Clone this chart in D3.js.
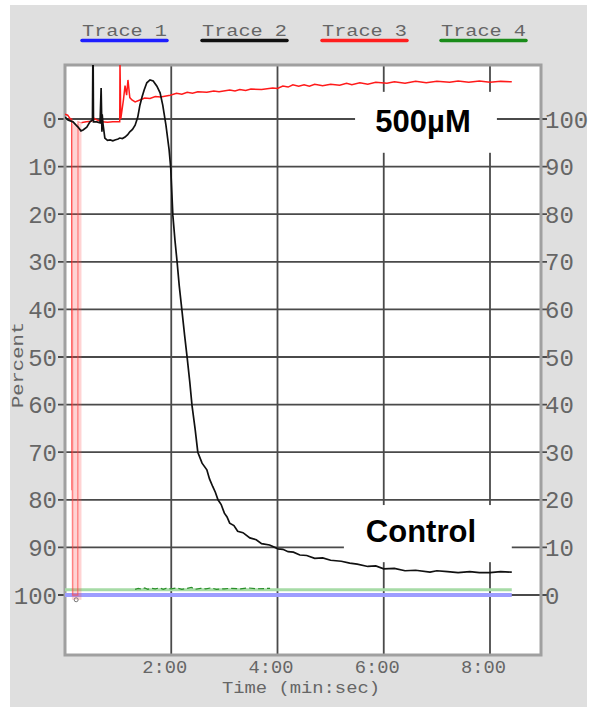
<!DOCTYPE html>
<html><head><meta charset="utf-8">
<script src="https://cdn.jsdelivr.net/npm/d3@7"></script>
<style>html,body{margin:0;padding:0;background:#fff;}</style>
</head><body>
<svg id="chart" width="590" height="707"></svg>
<script>
// ---------- data ----------
const legendLabels = ["Trace 1", "Trace 2", "Trace 3", "Trace 4"];
const legendColors = ["#1f1fff", "#111111", "#ff1f1f", "#1a8c1a"];
const leftTicks = [0,10,20,30,40,50,60,70,80,90,100];
const rightTicks = [100,90,80,70,60,50,40,30,20,10,0];
const timeTicks = [2,4,6,8];
const timeLabels = ["2:00","4:00","6:00","8:00"];

// Trace 1 (blue), left-axis percent
const trace1 = [[0,100],[8.41,100]];
// Trace 2 (black, Control), left-axis percent
const trace2 = [[0,-0.4],[0.056,0.2],[0.15,0.6],[0.2,1.2],[0.245,1.7],[0.3,2.5],[0.34,2.3],[0.41,1.7],[0.47,0.6],[0.517,0.2],[0.524,-12],[0.53,-12],[0.536,0.6],[0.6,0.6],[0.66,0.8],[0.68,-6.5],[0.695,2.7],[0.7,-1],[0.715,1],[0.75,4.0],[0.8,4.5],[0.85,4.4],[0.9,4.6],[0.94,4.4],[1.0,4.2],[1.03,4.0],[1.08,4.1],[1.13,3.8],[1.18,3.3],[1.22,2.7],[1.27,2.2],[1.32,1.3],[1.37,-0.4],[1.41,-2.9],[1.45,-4.6],[1.49,-6.1],[1.54,-7.6],[1.6,-8.2],[1.66,-8.0],[1.73,-6.9],[1.79,-5.5],[1.84,-2.9],[1.9,1.3],[1.96,6.5],[1.99,10.3],[2.03,20.2],[2.07,25.5],[2.11,30.0],[2.15,35],[2.20,40.1],[2.25,45.3],[2.30,50.2],[2.35,55.4],[2.39,60.1],[2.45,65.2],[2.50,70.0],[2.58,72.3],[2.67,73.7],[2.72,75.6],[2.78,77.2],[2.83,78.4],[2.88,80.0],[2.94,81.0],[3.0,82.8],[3.05,83.6],[3.10,84.9],[3.18,85.4],[3.25,86.6],[3.35,86.9],[3.48,88.0],[3.6,88.4],[3.7,89.2],[3.85,89.5],[4.01,90.3],[4.1,90.4],[4.2,90.9],[4.3,91.0],[4.42,91.6],[4.55,91.7],[4.7,92.3],[4.85,92.2],[5.0,92.7],[5.2,92.9],[5.36,93.3],[5.5,93.5],[5.7,94.0],[5.85,93.9],[6.0,94.5],[6.2,94.4],[6.4,94.9],[6.6,94.8],[6.87,95.2],[7.0,94.9],[7.2,95.1],[7.4,95.3],[7.62,95.1],[7.8,95.3],[8.0,95.3],[8.2,95.1],[8.41,95.2]];
// Trace 3 (red, 500µM), right-axis units
const trace3 = [[0,101],[0.05,100.8],[0.1,100],[0.13,100],[0.135,22],[0.14,60],[0.145,0],[0.24,0],[0.245,99.4],[0.3,99.2],[0.4,99.4],[0.5,99.5],[0.55,100.1],[0.6,99.8],[0.7,99.4],[0.8,99.3],[0.9,99.4],[1.0,99.4],[1.03,99.4],[1.035,112],[1.05,100],[1.1,104],[1.13,107],[1.16,105],[1.185,108.2],[1.22,104.5],[1.26,104],[1.32,103.6],[1.41,104],[1.5,104.4],[1.6,104.3],[1.7,104.7],[1.8,104.6],[1.98,105],[2.1,105.4],[2.2,105.2],[2.3,105.6],[2.4,105.4],[2.5,105.7],[2.67,105.6],[2.8,105.9],[2.9,105.7],[3.1,106.1],[3.2,105.9],[3.29,106.2],[3.4,106.0],[3.5,106.3],[3.7,106.2],[3.91,106.5],[4.0,106.4],[4.1,106.9],[4.2,106.7],[4.29,107.2],[4.4,106.9],[4.5,107.2],[4.6,106.9],[4.7,107.3],[4.85,107.0],[5.0,107.3],[5.17,107.1],[5.3,107.5],[5.4,107.2],[5.55,107.6],[5.7,107.3],[5.85,107.7],[6.06,107.5],[6.2,107.8],[6.4,107.5],[6.6,107.9],[6.8,107.6],[7.0,107.9],[7.24,107.7],[7.4,108.0],[7.6,107.7],[7.8,108.0],[8.0,107.7],[8.2,107.9],[8.41,107.8]];
const trace3Band = [0.13, 0.31];   // pulse region (min)
// Trace 4 (green), left-axis percent
const trace4 = [[0,98.9],[8.41,98.9]];
const trace4Noise = [[1.32,98.8],[1.38,98.6],[1.45,98.8],[1.5,98.5],[1.56,98.8],[1.62,98.6],[1.7,98.7],[1.78,98.5],[1.85,98.8],[1.9,98.6],[2.0,98.7],[2.1,98.5],[2.2,98.8],[2.3,98.6],[2.38,98.4],[2.45,98.8],[2.55,98.6],[2.65,98.7],[2.75,98.5],[2.85,98.8],[3.0,98.7],[3.1,98.6],[3.3,98.7],[3.45,98.5],[3.6,98.7],[3.86,98.6]];

const annotations = [
  {text:"500µM", box:[5.46,8.13,-5.7,7.1], at:[6.74,2.7]},
  {text:"Control", box:[5.25,8.41,81.1,93.1], at:[6.70,88.9]}
];

// ---------- layout ----------
const svg = d3.select("#chart");
const plot = {l:65, r:541, t:65, b:655};
const x = d3.scaleLinear().domain([0, 8.96]).range([plot.l, plot.r]);
const yL = d3.scaleLinear().domain([-11.34, 112.6]).range([plot.t, plot.b]);
const yR = d3.scaleLinear().domain([111.34, -12.6]).range([plot.t, plot.b]);
const mono = "'Liberation Mono','DejaVu Sans Mono',monospace";

svg.append("rect").attr("x",10).attr("y",5).attr("width",577).attr("height",702).attr("fill","#dfdfdf");
svg.append("rect").attr("x",plot.l).attr("y",plot.t).attr("width",plot.r-plot.l).attr("height",plot.b-plot.t).attr("fill","#fff");

const defs = svg.append("defs");
defs.append("clipPath").attr("id","clip").append("rect")
  .attr("x",plot.l).attr("y",plot.t).attr("width",plot.r-plot.l).attr("height",plot.b-plot.t);
const outside = defs.append("clipPath").attr("id","clipOut");
outside.append("rect").attr("x",plot.l).attr("y",plot.t).attr("width",x(trace3Band[0])-plot.l).attr("height",plot.b-plot.t);
outside.append("rect").attr("x",x(trace3Band[1])).attr("y",plot.t).attr("width",plot.r-x(trace3Band[1])).attr("height",plot.b-plot.t);
defs.append("clipPath").attr("id","clipIn").append("rect")
  .attr("x",x(trace3Band[0])).attr("y",plot.t).attr("width",x(trace3Band[1])-x(trace3Band[0])).attr("height",plot.b-plot.t);

// grid
const grid = svg.append("g").attr("stroke","#4a4a4a").attr("stroke-width",1.8);
grid.selectAll("line.h").data(leftTicks).join("line").attr("class","h")
  .attr("x1",plot.l-7).attr("x2",plot.r+6).attr("y1",d=>yL(d)).attr("y2",d=>yL(d));
grid.selectAll("line.v").data(timeTicks).join("line").attr("class","v")
  .attr("x1",d=>x(d)).attr("x2",d=>x(d)).attr("y1",plot.t).attr("y2",plot.b);

// border
svg.append("rect").attr("x",plot.l).attr("y",plot.t).attr("width",plot.r-plot.l).attr("height",plot.b-plot.t)
  .attr("fill","none").attr("stroke","#a0a0a0").attr("stroke-width",3);

// annotation boxes
svg.append("g").selectAll("rect").data(annotations).join("rect")
  .attr("x",d=>x(d.box[0])).attr("width",d=>x(d.box[1])-x(d.box[0]))
  .attr("y",d=>yL(d.box[2])).attr("height",d=>yL(d.box[3])-yL(d.box[2]))
  .attr("fill","#fff");

const traces = svg.append("g").attr("clip-path","url(#clip)");
const lineL = d3.line().x(d=>x(d[0])).y(d=>yL(d[1]));
const lineR = d3.line().x(d=>x(d[0])).y(d=>yR(d[1]));

traces.append("path").datum(trace1).attr("d",lineL).attr("fill","none").attr("stroke","#9d9dff").attr("stroke-width",4);
traces.append("path").datum(trace4).attr("d",lineL).attr("fill","none").attr("stroke","#a6dba6").attr("stroke-width",3);
traces.append("path").datum(trace4Noise).attr("d",lineL).attr("fill","none").attr("stroke","#2a8f2a").attr("stroke-width",1.2).attr("stroke-dasharray","6,3");
traces.append("rect").attr("x",x(trace3Band[0])).attr("width",x(trace3Band[1])-x(trace3Band[0]))
  .attr("y",yR(99)).attr("height",yR(-1)-yR(99)).attr("fill","#ff5050").attr("opacity",0.25);
traces.append("g").attr("clip-path","url(#clipIn)").append("path").datum(trace3).attr("d",lineR)
  .attr("fill","none").attr("stroke","#ff4040").attr("stroke-width",1.4).attr("opacity",0.55);
traces.append("g").attr("clip-path","url(#clipOut)").append("path").datum(trace3).attr("d",lineR)
  .attr("fill","none").attr("stroke","#ff1a1a").attr("stroke-width",1.5);
traces.append("path").datum(trace2).attr("d",lineL).attr("fill","none").attr("stroke","#111").attr("stroke-width",1.7);
traces.append("circle").attr("cx",x(0.21)).attr("cy",yL(101)).attr("r",2).attr("fill","none").attr("stroke","#777").attr("stroke-width",1);

// annotation text
svg.append("g").selectAll("text").data(annotations).join("text")
  .attr("x",d=>x(d.at[0])).attr("y",d=>yL(d.at[1]))
  .attr("text-anchor","middle").attr("font-family","Arial, 'Liberation Sans', sans-serif")
  .attr("font-weight","bold").attr("font-size",31).attr("fill","#000").text(d=>d.text);

// axis labels
svg.append("g").selectAll("text").data(leftTicks).join("text")
  .attr("x",57).attr("y",d=>yL(d)).attr("dy","0.36em").attr("text-anchor","end")
  .attr("font-family",mono).attr("font-size",24).attr("fill","#666").text(d=>d);
svg.append("g").selectAll("text").data(rightTicks).join("text")
  .attr("x",545).attr("y",d=>yR(d)).attr("dy","0.36em").attr("text-anchor","start")
  .attr("font-family",mono).attr("font-size",24).attr("fill","#666").text(d=>d);
svg.append("g").selectAll("text").data(timeTicks).join("text")
  .attr("x",d=>x(d)+16).attr("y",673).attr("text-anchor","end")
  .attr("font-family",mono).attr("font-size",18).attr("fill","#666")
  .attr("textLength",45).attr("lengthAdjust","spacingAndGlyphs")
  .text((d,i)=>timeLabels[i]);
svg.append("text").attr("x",222).attr("y",693).attr("font-family",mono).attr("font-size",17)
  .attr("fill","#666").attr("textLength",158).attr("lengthAdjust","spacingAndGlyphs").text("Time (min:sec)");
svg.append("text").attr("transform","translate(23,408) rotate(-90)").attr("font-family",mono).attr("font-size",17)
  .attr("fill","#666").attr("textLength",86).attr("lengthAdjust","spacingAndGlyphs").text("Percent");

// legend
const legX = [82, 202, 322, 441];
const leg = svg.append("g").selectAll("g").data(legendLabels).join("g")
  .attr("transform",(d,i)=>`translate(${legX[i]},0)`);
leg.append("text").attr("x",0).attr("y",36).attr("font-family",mono).attr("font-size",16)
  .attr("fill","#666").attr("textLength",85).attr("lengthAdjust","spacingAndGlyphs").text(d=>d);
leg.append("line").attr("x1",0).attr("x2",85).attr("y1",40.5).attr("y2",40.5)
  .attr("stroke",(d,i)=>legendColors[i]).attr("stroke-width",3.5).attr("stroke-linecap","round");
</script>
</body></html>
